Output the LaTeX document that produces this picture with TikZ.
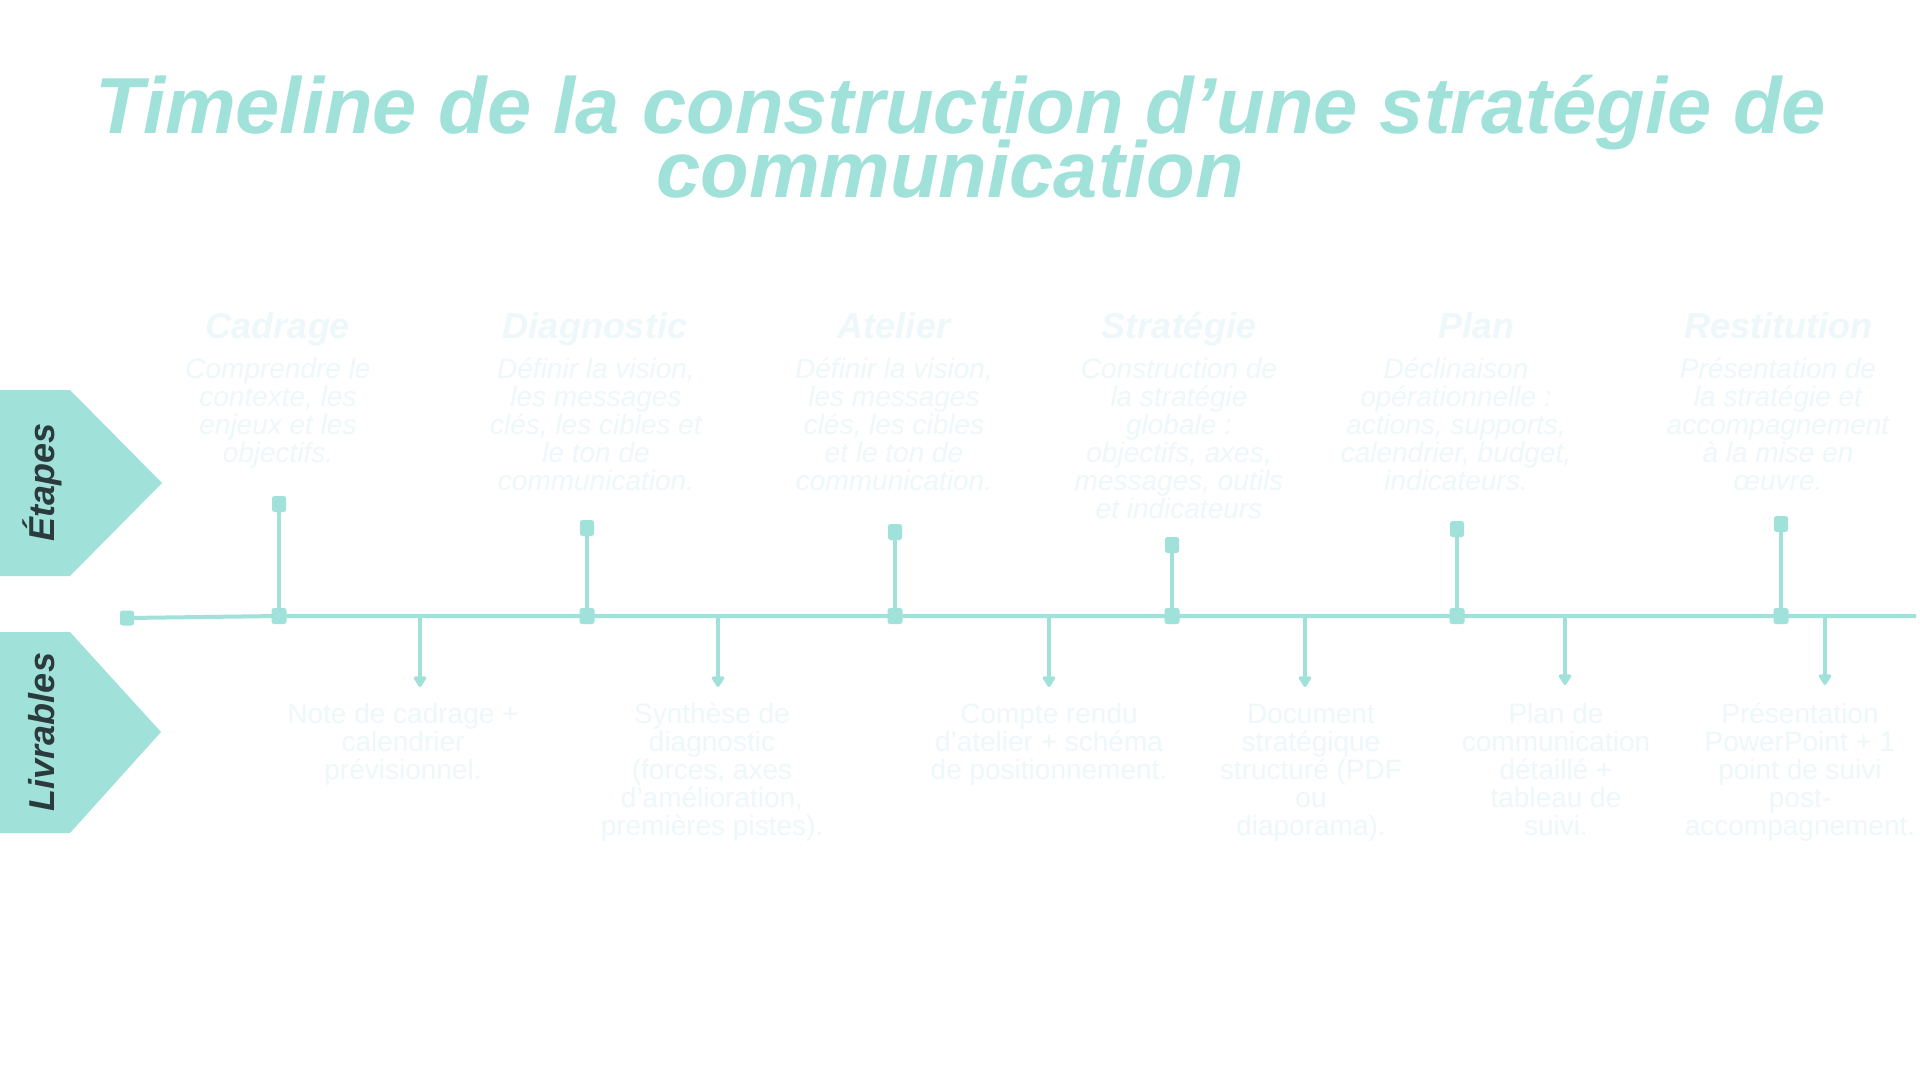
\documentclass[tikz,border=0pt]{standalone}
\usepackage{fontspec}
\setmainfont{Liberation Sans}
\usetikzlibrary{arrows.meta}
\definecolor{teal1}{HTML}{A0E2DA}
\definecolor{pale}{HTML}{EEF7F9}
\definecolor{darktxt}{HTML}{2B3A3C}
\newcommand{\firststrut}{\rule{0pt}{24pt}}
\begin{document}
\begin{tikzpicture}[x=1pt,y=-1pt,
  sq/.style={rectangle, fill=teal1, minimum width=15pt, minimum height=16pt, inner sep=0pt, rounded corners=2.5pt},
  tl/.style={draw=teal1, line width=4pt},
  stem/.style={draw=teal1, line width=3.5pt},
  down/.style={draw=teal1, line width=3.5pt, -{Triangle[width=14pt,length=12pt,round]}},
  chev/.style={fill=teal1},
  side/.style={font=\fontsize{36}{36}\selectfont\bfseries\itshape, text=darktxt, rotate=90, anchor=base, inner sep=0pt},
  ttl/.style={font=\fontsize{79.5}{79.5}\selectfont\bfseries\itshape, text=teal1, anchor=base, inner sep=0pt},
  stage/.style={font=\fontsize{36}{36}\selectfont\bfseries\itshape, text=pale, anchor=base, inner sep=0pt},
  desc/.style={font=\fontsize{28}{28}\selectfont\itshape, text=pale, align=center, anchor=north, inner sep=0pt},
  deliv/.style={font=\fontsize{28}{28}\selectfont, text=pale, align=center, anchor=north, inner sep=0pt},
]
\path[use as bounding box, fill=white] (0,0) rectangle (1920,1080);

% title
\node[ttl] (title1) at (961,133) {Timeline de la construction d’une stratégie de};
\node[ttl] (title2) at (950,197) {communication};

% side chevrons
\fill[chev] (0,390) -- (70,390) -- (162,483) -- (70,576) -- (0,576) -- cycle;
\fill[chev] (0,632) -- (70,632) -- (161,732) -- (70,833) -- (0,833) -- cycle;
\node[side] (etapes) at (54,482) {Étapes};
\node[side] (livrables) at (54,732) {Livrables};

% timeline nodes
\node[sq, minimum width=14pt, minimum height=15pt] (s0) at (127,618) {};
\node[sq] (n1) at (279,616) {};
\node[sq] (n2) at (587,616) {};
\node[sq] (n3) at (895,616) {};
\node[sq] (n4) at (1172,616) {};
\node[sq] (n5) at (1457,616) {};
\node[sq] (n6) at (1781,616) {};
\coordinate (lineend) at (1916,616);

\node[sq, minimum width=14pt] (t1) at (279,504) {};
\node[sq, minimum width=14pt] (t2) at (587,528) {};
\node[sq, minimum width=14pt] (t3) at (895,532) {};
\node[sq, minimum width=14pt] (t4) at (1172,545) {};
\node[sq, minimum width=14pt] (t5) at (1457,529) {};
\node[sq, minimum width=14pt] (t6) at (1781,524) {};

\draw[tl] (s0.center) -- (n1.center) -- (n2.center) -- (n3.center) -- (n4.center) -- (n5.center) -- (n6.center) -- (lineend);
\foreach \i in {1,...,6} { \draw[stem] (n\i.center) -- (t\i.center); }

% deliverable arrows
\coordinate (a1) at (420,616);  \coordinate (d1) at (420,687);
\coordinate (a2) at (718,616);  \coordinate (d2) at (718,687);
\coordinate (a3) at (1049,616); \coordinate (d3) at (1049,687);
\coordinate (a4) at (1305,616); \coordinate (d4) at (1305,687);
\coordinate (a5) at (1565,616); \coordinate (d5) at (1565,685);
\coordinate (a6) at (1825,616); \coordinate (d6) at (1825,685);
\foreach \i in {1,...,6} { \draw[down] (a\i) -- (d\i); }

% stage titles
\node[stage] (st1) at (278,338) {Cadrage};
\node[stage] (st2) at (595,338) {Diagnostic};
\node[stage] (st3) at (894,338) {Atelier};
\node[stage] (st4) at (1179,338) {Stratégie};
\node[stage] (st5) at (1476,338) {Plan};
\node[stage] (st6) at (1778,338) {Restitution};

% stage descriptions
\node[desc] (de1) at (278,354) {\firststrut Comprendre le\\contexte, les\\enjeux et les\\objectifs.};
\node[desc] (de2) at (596,354) {\firststrut Définir la vision,\\les messages\\clés, les cibles et\\le ton de\\communication.};
\node[desc] (de3) at (894,354) {\firststrut Définir la vision,\\les messages\\clés, les cibles\\et le ton de\\communication.};
\node[desc] (de4) at (1179,354) {\firststrut Construction de\\la stratégie\\globale :\\objectifs, axes,\\messages, outils\\et indicateurs};
\node[desc] (de5) at (1456,354) {\firststrut Déclinaison\\opérationnelle :\\actions, supports,\\calendrier, budget,\\indicateurs.};
\node[desc] (de6) at (1778,354) {\firststrut Présentation de\\la stratégie et\\accompagnement\\à la mise en\\œuvre.};

% deliverables
\node[deliv] (lv1) at (403,699) {\firststrut Note de cadrage +\\calendrier\\prévisionnel.};
\node[deliv] (lv2) at (712,699) {\firststrut Synthèse de\\diagnostic\\(forces, axes\\d’amélioration,\\premières pistes).};
\node[deliv] (lv3) at (1049,699) {\firststrut Compte rendu\\d’atelier + schéma\\de positionnement.};
\node[deliv] (lv4) at (1311,699) {\firststrut Document\\stratégique\\structuré (PDF\\ou\\diaporama).};
\node[deliv] (lv5) at (1556,699) {\firststrut Plan de\\communication\\détaillé +\\tableau de\\suivi.};
\node[deliv] (lv6) at (1800,699) {\firststrut Présentation\\PowerPoint + 1\\point de suivi\\post-\\accompagnement.};
\end{tikzpicture}
\end{document}
